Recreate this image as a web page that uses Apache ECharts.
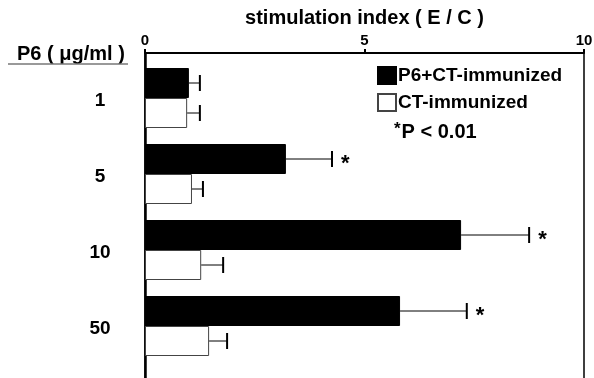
<!DOCTYPE html>
<html>
<head>
<meta charset="utf-8">
<script src="https://cdn.jsdelivr.net/npm/echarts@6/dist/echarts.min.js"></script>
<style>
    html, body { margin: 0; padding: 0; background: #fff; }
    #main { width: 594px; height: 378px; }
</style>
</head>
<body>
<div id="main"></div>
<script>
// P6 dose groups (ug/ml)
var categories = ['1', '5', '10', '50'];
// stimulation index, P6+CT-immunized
var p6Means = [1.0, 3.21, 7.2, 5.81];
var p6Errors = [0.25, 1.05, 1.55, 1.52];
// stimulation index, CT-immunized
var ctMeans = [0.96, 1.07, 1.28, 1.46];
var ctErrors = [0.29, 0.25, 0.5, 0.41];
// *P < 0.01
var significant = [false, true, true, true];
var xTicks = [0, 5, 10];

var FONT = '"Liberation Sans", Arial, Helvetica, sans-serif';
var BAR_W = 30;
var PAD_W = 14; // empty slot above each pair

//误差线
function errorSeries(name, means, errors, offset, stars) {
    var data = [];
    for (var i = 0; i < means.length; i++) {
        data.push([means[i], i, means[i] + errors[i], stars ? (stars[i] ? 1 : 0) : 0]);
    }
    return {
        name: name + '-err',
        type: 'custom',
        silent: true,
        z: 5,
        data: data,
        renderItem: function (params, api) {
            var p0 = api.coord([api.value(0), api.value(1)]);
            var p1 = api.coord([api.value(2), api.value(1)]);
            var y = p0[1] + offset;
            var children = [
                { type: 'line', shape: { x1: p0[0], y1: y, x2: p1[0], y2: y }, style: { stroke: '#000', lineWidth: 1 } },
                { type: 'line', shape: { x1: p1[0], y1: y - 8, x2: p1[0], y2: y + 8 }, style: { stroke: '#000', lineWidth: 2 } }
            ];
            if (api.value(3)) {
                children.push({
                    type: 'text',
                    style: { text: '*', x: p1[0] + 9, y: y + 5, fill: '#000', font: 'bold 22px ' + FONT, verticalAlign: 'middle' }
                });
            }
            return { type: 'group', children: children };
        }
    };
}

var pairTop = -(PAD_W + 2 * BAR_W) / 2 + PAD_W;
var p6Offset = pairTop + BAR_W / 2;
var ctOffset = pairTop + BAR_W * 1.5;

var option = {
    animation: false,
    backgroundColor: '#fff',
    textStyle: { fontFamily: FONT },
    grid: {
        left: 145, top: 53, width: 439, height: 380,
        outerBoundsMode: 'none',
        containLabel: false,
        show: true, borderColor: '#000', borderWidth: 1.5
    },
    legend: {
        orient: 'vertical',
        left: 377, top: 66, padding: 0,
        itemWidth: 18, itemHeight: 17, itemGap: 8,
        icon: 'rect',
        data: ['P6+CT-immunized', 'CT-immunized'],
        textStyle: { fontFamily: FONT, fontWeight: 'bold', fontSize: 19, color: '#000', padding: [0, 0, 0, -3] }
    },
    graphic: [
        {
            type: 'text', left: 17, top: 44,
            style: { text: 'P6 ( \u03bcg/ml )', font: 'bold 20px ' + FONT, fill: '#000' }
        },
        {
            type: 'line', shape: { x1: 8, y1: 64, x2: 128, y2: 64 },
            style: { stroke: '#777', lineWidth: 1.5 }
        },
        {
            type: 'text', left: 394, top: 121,
            style: {
                text: '{s|*}P < 0.01',
                font: 'bold 20px ' + FONT, fill: '#000',
                rich: { s: { font: 'bold 17px ' + FONT, fill: '#000', verticalAlign: 'top', padding: [0, 1, 6, 0] } }
            }
        }
    ],
    xAxis: {
        type: 'value',
        position: 'top',
        min: xTicks[0], max: xTicks[xTicks.length - 1], interval: 5,
        name: 'stimulation index ( E / C )',
        nameLocation: 'middle', nameGap: 18,
        nameTextStyle: { fontFamily: FONT, fontWeight: 'bold', fontSize: 20, color: '#000' },
        axisLine: { show: true, lineStyle: { color: '#000', width: 2 } },
        axisTick: { show: true, length: 4, lineStyle: { color: '#000', width: 2 } },
        axisLabel: { fontFamily: FONT, fontWeight: 'bold', fontSize: 15, color: '#000', margin: 5 },
        splitLine: { show: false }
    },
    yAxis: {
        type: 'category',
        inverse: true,
        data: categories.concat(['']),
        axisLine: { show: true, lineStyle: { color: '#000', width: 2.5 } },
        axisTick: { show: false },
        axisLabel: {
            fontFamily: FONT, fontWeight: 'bold', fontSize: 19, color: '#000',
            margin: 45, align: 'center', verticalAlign: 'top'
        }
    },
    series: [
        {
            name: 'pad', type: 'bar', barWidth: PAD_W, barGap: '0%',
            silent: true, data: [], itemStyle: { color: 'transparent' }
        },
        {
            name: 'P6+CT-immunized', type: 'bar', barWidth: BAR_W, barGap: '0%',
            itemStyle: { color: '#000', borderColor: '#000', borderWidth: 1 },
            data: p6Means
        },
        {
            name: 'CT-immunized', type: 'bar', barWidth: BAR_W, barGap: '0%',
            itemStyle: { color: '#fff', borderColor: '#444', borderWidth: 1 },
            data: ctMeans
        },
        errorSeries('P6+CT-immunized', p6Means, p6Errors, p6Offset, significant),
        errorSeries('CT-immunized', ctMeans, ctErrors, ctOffset, null)
    ]
};

var chart = echarts.init(document.getElementById('main'));
chart.setOption(option);
</script>
</body>
</html>
